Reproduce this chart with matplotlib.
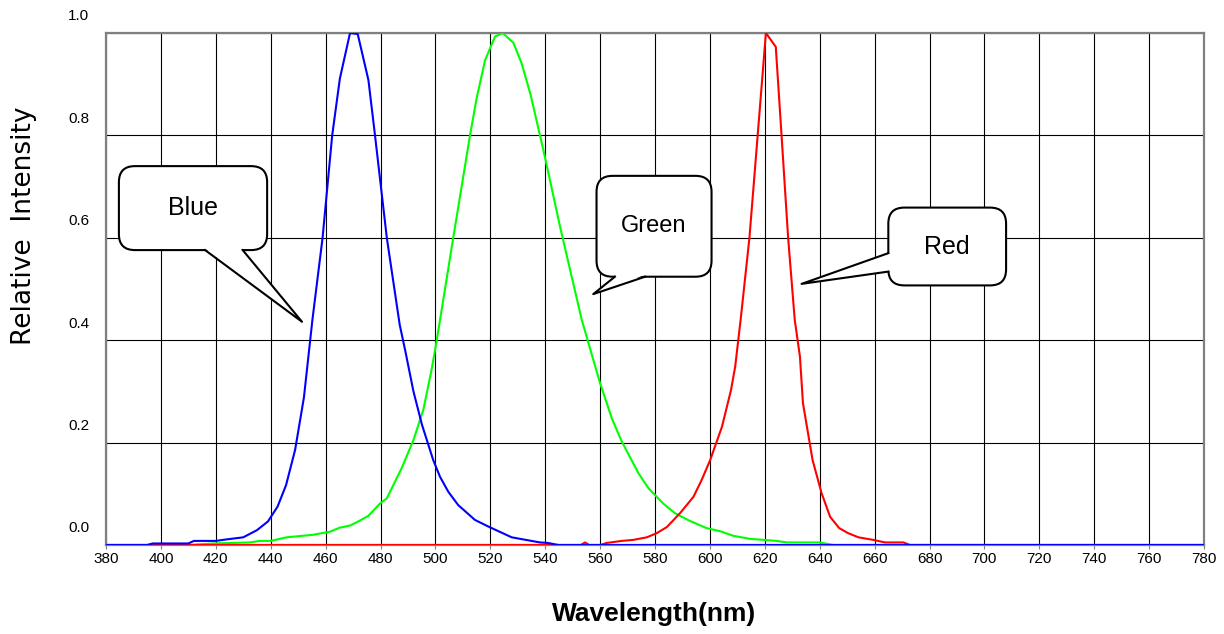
import numpy as np
import matplotlib
matplotlib.use("Agg")
import matplotlib.pyplot as plt
import matplotlib.transforms as mtransforms
from matplotlib.patches import FancyBboxPatch, Polygon

# DATOS

wl_blue = [380, 395, 397, 410, 412, 420, 424, 430, 435, 439, 442.5, 445.6, 448.9,
           452.1, 455.2, 458.9, 462.4, 465.2, 468.9, 471.7, 475.6, 478, 482.3, 487,
           489, 492, 495.1, 499.2, 501.7, 504.7, 508.3, 514.4, 519.3, 527.8, 538.1,
           541, 544.8, 780]
int_blue = [0, 0, 0.003, 0.003, 0.008, 0.008, 0.011, 0.015, 0.029, 0.046, 0.075, 0.117,
            0.186, 0.288, 0.44, 0.6, 0.8, 0.911, 1.0, 0.998, 0.908, 0.8, 0.6, 0.43,
            0.38, 0.30, 0.235, 0.166, 0.133, 0.104, 0.078, 0.049, 0.036, 0.015, 0.005,
            0.004, 0, 0]

wl_green = [380, 410, 419, 432.5, 436, 440, 445.8, 455.5, 461.6, 465.2, 468.9, 471.9,
            475.6, 479.8, 482.3, 487.7, 492, 495.6, 498.6, 500.5, 501.7, 506.5, 512.6,
            515, 518.1, 521.7, 524.5, 528.4, 531.4, 534.7, 538.1, 539.6, 545.4, 553.3,
            560, 564.3, 567.9, 574, 577.6, 583, 587.3, 592.7, 598.8, 603.7, 608.5,
            614.6, 619.5, 624.3, 628, 640, 645, 780]
int_green = [0, 0, 0.003, 0.005, 0.008, 0.008, 0.015, 0.02, 0.026, 0.034, 0.038, 0.046,
             0.057, 0.081, 0.091, 0.15, 0.205, 0.264, 0.342, 0.40, 0.44, 0.6, 0.8,
             0.872, 0.947, 0.993, 1.0, 0.981, 0.941, 0.879, 0.8, 0.765, 0.622, 0.44,
             0.316, 0.247, 0.202, 0.14, 0.111, 0.081, 0.062, 0.047, 0.033, 0.027, 0.018,
             0.012, 0.01, 0.008, 0.005, 0.005, 0, 0]

wl_red = [380, 553, 554.5, 556, 560, 562.4, 567.9, 572.1, 577, 580.6, 584.3, 589.1, 594,
          597, 600.1, 604.4, 607.7, 609.2, 611.2, 614.4, 617.4, 620.4, 624, 626.1,
          628.5, 630.9, 632.8, 633.9, 637.4, 640.7, 643.8, 647.1, 650.4, 654.1, 659.5,
          663.8, 670.5, 672.9, 780]
int_red = [0, 0, 0.005, 0, 0, 0.004, 0.008, 0.01, 0.015, 0.023, 0.035, 0.062, 0.094,
           0.127, 0.166, 0.231, 0.303, 0.348, 0.44, 0.6, 0.8, 1.0, 0.973, 0.8, 0.6,
           0.44, 0.368, 0.277, 0.166, 0.101, 0.055, 0.033, 0.023, 0.015, 0.01, 0.005,
           0.005, 0, 0]

x_ticks = list(range(380, 781, 20))
y_ticks = [0.0, 0.2, 0.4, 0.6, 0.8, 1.0]

narrow = ['Liberation Sans Narrow', 'Liberation Sans', 'DejaVu Sans']

# FIGURA
fig = plt.figure(figsize=(12.24, 6.34), dpi=100)
ax = fig.add_axes([106/1224, 89/634, 1098/1224, 512/634])

ax.plot(wl_green, int_green, color='#00ff00', lw=1.5, zorder=3)
ax.plot(wl_red, int_red, color='#ff0000', lw=1.5, zorder=3)
ax.plot(wl_blue, int_blue, color='#0000ff', lw=1.5, zorder=3)

ax.set_xlim(380, 780)
ax.set_ylim(0, 1.0)
ax.set_xticks(x_ticks)
ax.set_xticklabels([str(v) for v in x_ticks], family=narrow, fontsize=11)
ax.set_yticks(y_ticks)
ax.set_yticklabels([f"{v:.1f}" for v in y_ticks], family=narrow, fontsize=11)
ax.grid(True, color='black', lw=0.8)
ax.set_axisbelow(True)
for s in ax.spines.values():
    s.set_color('#808080')
    s.set_linewidth(1.6)
ax.tick_params(axis='x', length=3, color='#808080', pad=2)
ax.tick_params(axis='y', length=0, pad=12)

# etiquetas del eje y desplazadas hacia arriba
desp = mtransforms.ScaledTranslation(0, 0.18, fig.dpi_scale_trans)
for lab in ax.get_yticklabels():
    lab.set_transform(lab.get_transform() + desp)

fig.text(24/1224, 1 - 226/634, "Relative  Intensity", rotation=90, fontsize=19,
         family='DejaVu Sans', ha='center', va='center')
fig.text(654/1224, 1 - 614/634, "Wavelength(nm)", fontsize=19, weight='bold',
         family=narrow, ha='center', va='center')


# GLOBOS (coordenadas en datos)
def globo(box, base1, base2, tip, texto, size):
    px = ax.transData.transform
    (x0, y0), (x1, y1) = px([(box[0], box[1]), (box[2], box[3])])
    caja = FancyBboxPatch((x0, y0), x1 - x0, y1 - y0,
                          boxstyle="round,pad=0,rounding_size=16",
                          transform=mtransforms.IdentityTransform(),
                          fc='white', ec='black', lw=1.5, zorder=5, clip_on=False)
    fig.add_artist(caja)
    b1, b2, t = px([base1, base2, tip])
    # tapar el borde de la caja entre los puntos de la cola
    c = np.array([(x0 + x1) / 2, (y0 + y1) / 2])
    b1i = b1 + (c - b1) * 0.04
    b2i = b2 + (c - b2) * 0.04
    cola = Polygon([b1i, t, b2i], closed=True, fc='white', ec='none',
                   transform=mtransforms.IdentityTransform(), zorder=6)
    fig.add_artist(cola)
    linea = plt.Line2D([b1[0], t[0], b2[0]], [b1[1], t[1], b2[1]], color='black',
                       lw=1.5, transform=mtransforms.IdentityTransform(), zorder=7)
    fig.add_artist(linea)
    fig.text((x0 + x1) / 2 / 1224, (y0 + y1) / 2 / 634, texto, fontsize=size,
             family=narrow, ha='center', va='center', zorder=8)


globo((384.7, 0.576, 438.7, 0.740), (416.1, 0.576), (429.8, 0.576), (451.4, 0.436), "Blue", 18)
globo((558.7, 0.524, 600.6, 0.721), (565.4, 0.524), (576.4, 0.524), (557.5, 0.490), "Green", 17)
globo((665.0, 0.507, 707.9, 0.659), (665.0, 0.570), (665.0, 0.534), (633.4, 0.510), "Red", 18)

plt.savefig("out.png", dpi=100)
